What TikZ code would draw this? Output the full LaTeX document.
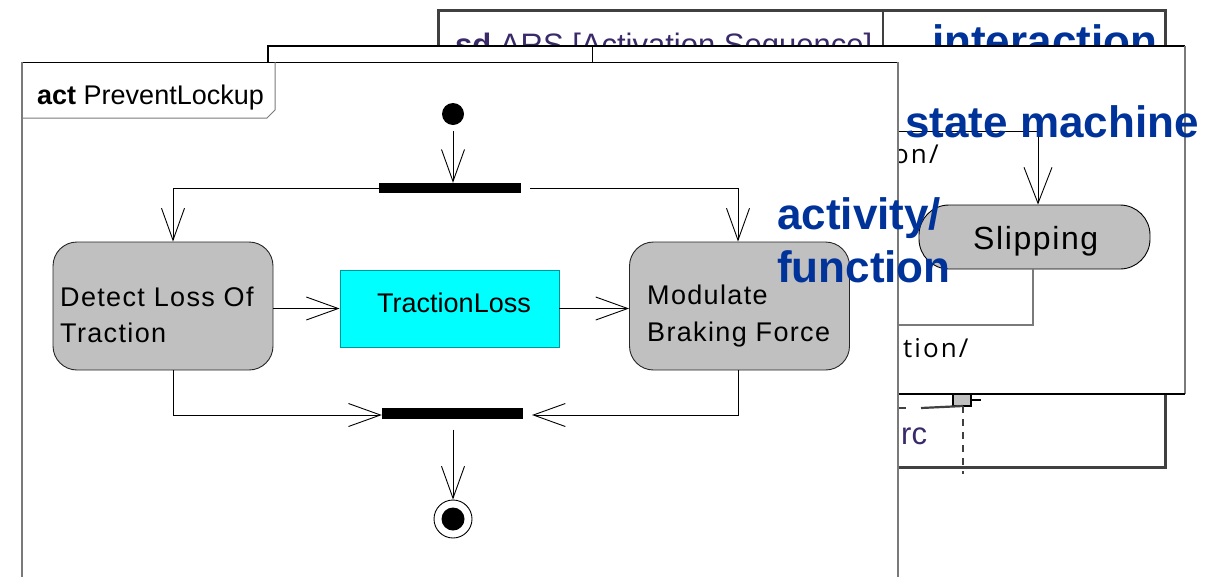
\documentclass[tikz,border=0pt]{standalone}
\usepackage{fontspec}
\setmainfont{Liberation Sans}
\newfontfamily\spacedfont[LetterSpace=5]{Liberation Sans}
\newfontfamily\smfont[LetterSpace=8]{Open Sans}
\usetikzlibrary{arrows.meta}
\definecolor{boxgray}{HTML}{C0C0C0}
\definecolor{labelblue}{HTML}{003399}
\definecolor{sdtext}{HTML}{3A2A6A}
\definecolor{framegray}{HTML}{7A7A7A}
\definecolor{sdgray}{HTML}{404040}
\definecolor{aqua}{HTML}{00FFFF}
\tikzset{
  flow/.style={draw=black, line width=0.9pt, -{Straight Barb[length=32pt,width=23pt,line width=0.9pt]}},
  plain/.style={draw=black, line width=0.9pt},
  actionbox/.style={draw=black!85, line width=0.9pt, fill=boxgray, rounded corners=24pt, inner sep=0pt},
  objbox/.style={draw=black!40!aqua, line width=0.8pt, fill=aqua, inner sep=0pt},
  statebox/.style={draw=black, line width=0.9pt, fill=boxgray, rounded corners=30pt, inner sep=0pt},
  bar/.style={fill=black, draw=none, inner sep=0pt},
  txt/.style={inner sep=0pt, anchor=base west, font=\spacedfont\fontsize{27}{32}\selectfont},
  bluelbl/.style={inner sep=0pt, anchor=base west, text=labelblue, font=\bfseries\fontsize{44}{53}\selectfont},
  sdlbl/.style={inner sep=0pt, anchor=base west, text=sdtext, font=\fontsize{31}{36}\selectfont},
  smlbl/.style={inner sep=0pt, anchor=base west, font=\smfont\fontsize{26}{30}\selectfont},
  sdline/.style={draw=sdgray, line width=3pt},
  lifeline/.style={draw=sdgray, line width=2.2pt, dash pattern=on 7pt off 6pt},
}
\begin{document}
\begin{tikzpicture}[x=1pt,y=-1pt]
\useasboundingbox (0,0) rectangle (1230,576);
% ---------- back layer: sequence diagram frame ----------
\fill[white] (438,10) rectangle (1165,467);
\node[sdlbl] (sdtitle) at (455,55) {\textbf{sd} ARS [Activation Sequence]};
\node[bluelbl] (interact) at (932,56) {interaction};
\draw[sdline] (438,467) -- (438,10) -- (1165,10) -- (1165,467) -- (438,467);
\draw[sdline, line width=2pt] (883,10) -- (883,50);
\node[sdlbl, anchor=base west] (rc) at (901,444) {rc};
\node[draw=black, line width=1.2pt, fill=boxgray, minimum width=18pt, minimum height=12pt, inner sep=0pt] (act1) at (962,400) {};
\coordinate (actR) at (981,400);
\draw[black, line width=1.2pt] (act1.east) -- (actR);
\coordinate (llTop) at (963,406);
\coordinate (llBot) at (963,474);
\draw[lifeline] (llTop) -- (llBot);
\coordinate (msgA) at (890,408);
\coordinate (msgB) at (906,408);
\coordinate (msgC) at (921,408);
\draw[sdline, line width=2.2pt] (msgA) -- (msgB);
\draw[sdline, line width=2.2pt] (msgC) -- (llTop);
% ---------- middle layer: state machine frame ----------
\fill[white] (268,46) rectangle (1185,394);
\draw[black, line width=1.2pt] (268,62) -- (268,46) -- (1185,46);
\draw[framegray, line width=2pt] (1185,46) -- (1185,394);
\draw[black, line width=1.4pt] (1185,394) -- (880,394);
\draw[black, line width=1pt] (592,46) -- (592,64);
\node[smlbl] (tr1) at (893,163) {on/};
\node[smlbl] (tr2) at (903,357) {tion/};
\node[statebox, minimum width=231pt, minimum height=64pt] (slip) at (1034.5,237) {};
\node[inner sep=0pt, anchor=base west, font=\spacedfont\fontsize{32}{38}\selectfont] (sliptxt) at (973,249) {Slipping};
\coordinate (inA) at (880,131);
\coordinate (inB) at (1038,131);
\draw[flow, -{Straight Barb[length=36pt,width=28pt,line width=0.9pt]}] (inA) -- (inB) -- (slip.north -| inB);
\coordinate (outB) at (1033,325);
\coordinate (outC) at (880,325);
\draw[draw=framegray, line width=1.4pt] (slip.south -| outB) -- (outB) -- (outC);
% ---------- front layer: activity diagram ----------
\fill[white] (22,62) rectangle (898,590);
\draw[black, line width=1pt] (22,62) -- (898,62);
\draw[framegray, line width=2pt] (22,62) -- (22,590);
\draw[framegray, line width=2pt] (898,62) -- (898,590);
\draw[framegray, line width=1pt] (22,118) -- (267,118) -- (275,110) -- (275,62);
\node[inner sep=0pt, anchor=base west, font=\fontsize{27}{32}\selectfont] (acttitle) at (37,104) {\textbf{act} PreventLockup};
% initial, fork
\node[circle, fill=black, minimum size=22pt, inner sep=0pt] (init) at (453,114) {};
\node[bar, minimum width=142pt, minimum height=10pt] (fork) at (450,188) {};
\draw[flow, shorten <=6pt] (init) -- (fork.north -| init);
% actions
\node[actionbox, minimum width=220pt, minimum height=128pt] (detect) at (163,306) {};
\node[txt] (detecttxt) at (60,306) {Detect Loss Of};
\node[txt] (detecttxt2) at (60,342) {Traction};
\node[objbox, minimum width=219pt, minimum height=77pt] (loss) at (449.5,308.5) {};
\node[inner sep=0pt, anchor=base, font=\fontsize{27}{32}\selectfont] (losstxt) at (454,312) {TractionLoss};
\node[actionbox, minimum width=220pt, minimum height=128pt] (modulate) at (739.5,306) {};
\node[txt] (modtxt) at (647,304) {Modulate};
\node[txt] (modtxt2) at (647,341) {Braking Force};
% fork branches
\coordinate (fl) at (173,188);
\coordinate (fr) at (738,188);
\draw[flow] (fork.west) -- (fl) -- (detect.north -| fl);
\draw[flow, shorten <=9pt] (fork.east) -- (fr) -- (modulate.north -| fr);
% flows through object
\draw[flow] (detect.east |- loss) -- (loss.west);
\draw[flow] (loss.east) -- (modulate.west |- loss);
% join
\node[bar, minimum width=141pt, minimum height=11pt] (join) at (452.5,413) {};
\coordinate (jl) at (173,415);
\coordinate (jr) at (738,415);
\draw[flow] (detect.south -| jl) -- (jl) -- (join.west |- jl);
\coordinate (jrt) at (532,415);
\draw[flow] (modulate.south -| jr) -- (jr) -- (jrt);
% final
\node[circle, draw=black, line width=0.9pt, fill=white, minimum size=38pt, inner sep=0pt] (final) at (453,519) {};
\node[circle, fill=black, minimum size=23pt, inner sep=0pt] (finaldot) at (final.center) {};
\draw[flow, shorten <=11pt] (join.south -| final) -- (final.north);
% ---------- overlay labels ----------
\node[bluelbl] (smlabel) at (905,137) {state machine};
\node[bluelbl] (actlabel1) at (777,229) {activity/};
\node[bluelbl] (actlabel2) at (777,282) {function};
\end{tikzpicture}
\end{document}
